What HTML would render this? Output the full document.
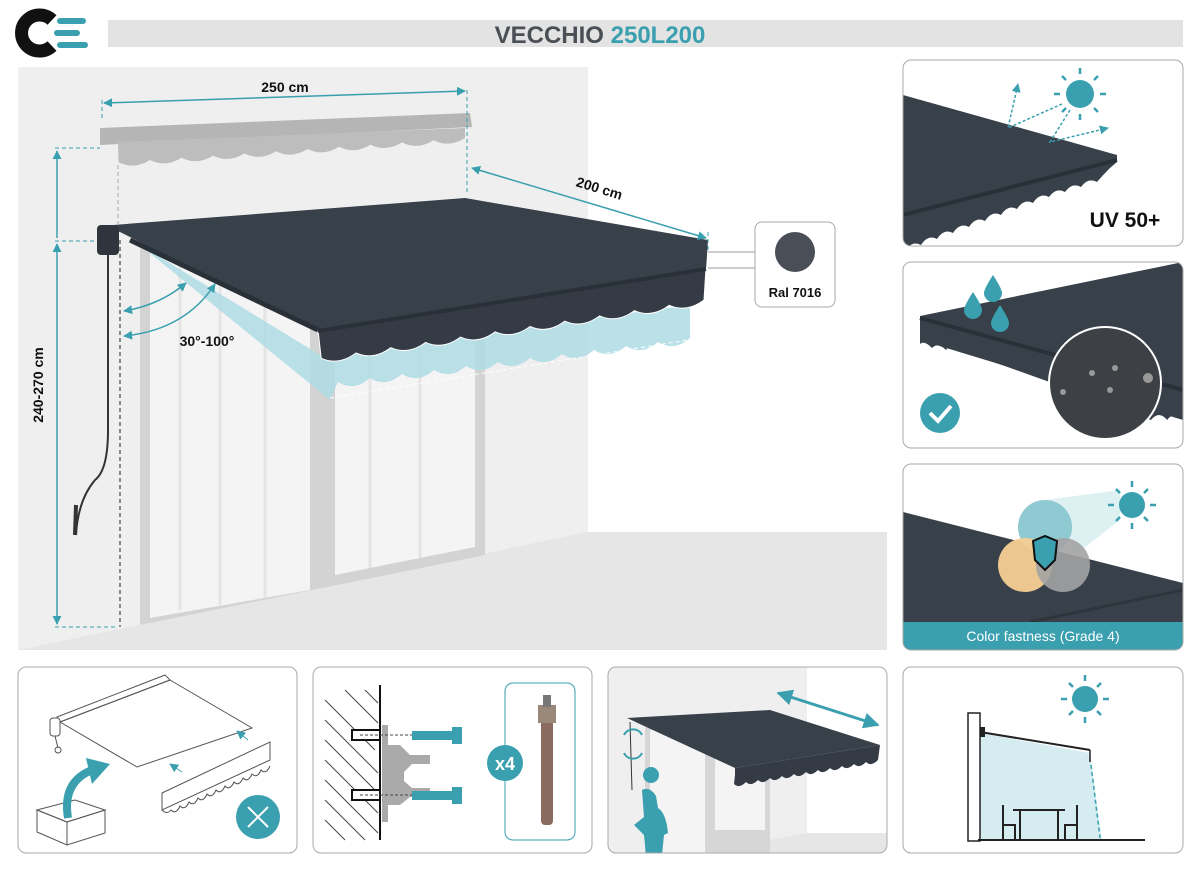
<!DOCTYPE html>
<html><head><meta charset="utf-8"><style>
html,body{margin:0;padding:0;background:#fff;width:1200px;height:870px;overflow:hidden}
svg{display:block}
text{font-family:"Liberation Sans",sans-serif}
</style></head><body>
<svg width="1200" height="870" viewBox="0 0 1200 870" xmlns="http://www.w3.org/2000/svg">
<defs>
<marker id="ar" viewBox="0 0 10 10" refX="9" refY="5" markerWidth="9" markerHeight="9" markerUnits="userSpaceOnUse" orient="auto-start-reverse"><path d="M0,0L10,5L0,10z" fill="#3a9fae"/></marker>
<marker id="arb" viewBox="0 0 10 10" refX="9" refY="5" markerWidth="16" markerHeight="16" markerUnits="userSpaceOnUse" orient="auto-start-reverse"><path d="M0,0L10,5L0,10z" fill="#3a9fae"/></marker>
</defs>
<!-- logo -->
<path d="M52,20 A18,18 0 1 0 52,46" fill="none" stroke="#111" stroke-width="13"/>
<g stroke="#3a9fae" stroke-width="6" stroke-linecap="round"><line x1="60" y1="21" x2="83" y2="21"/><line x1="57" y1="33" x2="77" y2="33"/><line x1="60" y1="45" x2="85" y2="45"/></g>
<!-- title -->
<rect x="108" y="20" width="1075" height="27" fill="#e3e3e3"/>
<text x="600" y="43" text-anchor="middle" font-size="24" font-weight="bold" fill="#4a4f55">VECCHIO <tspan fill="#3a9fae">250L200</tspan></text>

<!-- main scene -->
<rect x="18" y="67" width="869" height="583" fill="#fff"/>
<rect x="18" y="67" width="570" height="583" fill="#efefef"/>
<polygon points="588,532 887,532 887,650 18,650" fill="#e6e6e6"/>
<!-- window -->
<polygon points="140,240 485,240 485,555 140,625" fill="#d3d3d3"/>
<polygon points="150,250 310,250 310,590 150,618" fill="#f4f4f4"/>
<polygon points="335,250 475,250 475,547 335,575" fill="#f4f4f4"/>
<g stroke="#e4e4e4" stroke-width="3"><line x1="180" y1="255" x2="180" y2="610"/><line x1="220" y1="255" x2="220" y2="605"/><line x1="265" y1="255" x2="265" y2="598"/><line x1="370" y1="255" x2="370" y2="568"/><line x1="420" y1="255" x2="420" y2="558"/></g>
<!-- ghost gray awning -->
<polygon points="100,128 470,113 472,127 100,145" fill="#b5b5b5"/>
<path d="M118,142 L465,128 L465,138 q-15.8,10 -31.5,2.2 q-15.8,10 -31.5,2.2 q-15.8,10 -31.5,2.2 q-15.8,10 -31.5,2.2 q-15.8,10 -31.5,2.2 q-15.8,10 -31.5,2.2 q-15.8,10 -31.5,2.2 q-15.8,10 -31.5,2.2 q-15.8,10 -31.5,2.2 q-15.8,10 -31.5,2.2 q-15.8,10 -31.5,2.2 Z" fill="#bdbdbd"/>
<!-- light blue ghost -->
<path d="M140,245 L320,355 L690,305 L690,338 q-16,14 -32,4 q-16,14 -32,4 q-16,14 -32,4 q-16,14 -32,4 q-16,14 -32,4 q-16,14 -32,4 q-16,14 -32,4 q-16,14 -32,4 q-16,14 -32,4 q-16,14 -32,4 q-16,14 -32,4 L330,400 Z" fill="#aedce4" opacity="0.85"/>
<line x1="330" y1="398" x2="688" y2="340" stroke="#fff" stroke-dasharray="4,3"/>
<!-- dark awning -->
<polygon points="100,226 465,198 708,240 706,270 318,332 120,232" fill="#38404a"/>
<path d="M318,330 L706,268 L704,300 q-17.4,13 -34.8,5.3 q-17.4,13 -34.8,5.3 q-17.4,13 -34.8,5.3 q-17.4,13 -34.8,5.3 q-17.4,13 -34.8,5.3 q-17.4,13 -34.8,5.3 q-17.4,13 -34.8,5.3 q-17.4,13 -34.8,5.3 q-17.4,13 -34.8,5.3 q-17.4,13 -34.8,5.3 q-17.4,13 -34.8,5.3 Z" fill="#343b45" stroke="#fff" stroke-width="1"/>
<line x1="318" y1="331" x2="706" y2="269" stroke="#2a3038" stroke-width="4"/>
<line x1="130" y1="240" x2="318" y2="330" stroke="#2a3038" stroke-width="5"/>
<rect x="97" y="225" width="22" height="30" rx="4" fill="#2f353d"/>
<!-- crank -->
<path d="M108,255 L108,430 Q108,470 95,480 Q78,500 76,535" fill="none" stroke="#333" stroke-width="2"/>
<line x1="76" y1="505" x2="75" y2="535" stroke="#333" stroke-width="4"/>
<!-- dashed verticals -->
<line x1="120" y1="240" x2="120" y2="627" stroke="#222" stroke-dasharray="4,3"/>
<line x1="118" y1="165" x2="118" y2="225" stroke="#aaa" stroke-dasharray="4,3"/>
<line x1="467" y1="90" x2="467" y2="195" stroke="#3a9fae" stroke-dasharray="4,3"/>
<line x1="102" y1="100" x2="102" y2="120" stroke="#3a9fae" stroke-dasharray="4,3"/>
<line x1="708" y1="232" x2="708" y2="250" stroke="#3a9fae" stroke-dasharray="4,3"/>
<!-- dims -->
<line x1="104" y1="103" x2="465" y2="91" stroke="#3a9fae" stroke-width="1.5" marker-start="url(#ar)" marker-end="url(#ar)"/>
<text x="285" y="92" text-anchor="middle" font-size="14" font-weight="bold" fill="#111">250 cm</text>
<line x1="472" y1="168" x2="706" y2="238" stroke="#3a9fae" stroke-width="1.5" marker-start="url(#ar)" marker-end="url(#ar)"/>
<text x="598" y="193" text-anchor="middle" font-size="14" font-weight="bold" fill="#111" transform="rotate(17 598 193)">200 cm</text>
<g stroke="#3a9fae" stroke-dasharray="4,3"><line x1="55" y1="148" x2="100" y2="148"/><line x1="55" y1="241" x2="97" y2="241"/><line x1="55" y1="627" x2="115" y2="627"/></g>
<line x1="57" y1="238" x2="57" y2="151" stroke="#3a9fae" stroke-width="1.5" marker-end="url(#ar)"/>
<line x1="57" y1="244" x2="57" y2="624" stroke="#3a9fae" stroke-width="1.5" marker-start="url(#ar)" marker-end="url(#ar)"/>
<text x="43" y="385" text-anchor="middle" font-size="14" font-weight="bold" fill="#111" transform="rotate(-90 43 385)">240-270 cm</text>
<path d="M124,311 Q160,305 186,283" fill="none" stroke="#3a9fae" stroke-width="1.5" marker-start="url(#ar)" marker-end="url(#ar)"/>
<path d="M124,336 Q185,330 215,284" fill="none" stroke="#3a9fae" stroke-width="1.5" marker-start="url(#ar)" marker-end="url(#ar)"/>
<text x="207" y="346" text-anchor="middle" font-size="14" font-weight="bold" fill="#111">30°-100°</text>
<!-- ral -->
<line x1="708" y1="252" x2="755" y2="252" stroke="#999"/><line x1="708" y1="268" x2="755" y2="268" stroke="#999"/>
<rect x="755" y="222" width="80" height="85" rx="7" fill="#fff" stroke="#aaa"/>
<circle cx="795" cy="252" r="20" fill="#4a4f57"/>
<text x="795" y="297" text-anchor="middle" font-size="13" font-weight="bold" fill="#111">Ral 7016</text>

<!-- right panel 1 -->
<g>
<clipPath id="c1"><rect x="903" y="60" width="280" height="186" rx="8"/></clipPath>
<g clip-path="url(#c1)">
<path d="M903,95 L1117,155 L1117,162 L1110,168 q-8,8 -13,14 q-9,-5 -16,5 q-9,-5 -16,5 q-9,-5 -16,5 q-9,-5 -16,6 q-9,-5 -16,6 q-9,-5 -16,6 q-9,-5 -16,6 q-9,-5 -16,6 q-9,-5 -16,6 q-9,-5 -16,6 q-9,-5 -16,6 q-9,-5 -16,6 q-9,-5 -16,6 L903,246 Z" fill="#38404a"/>
<line x1="903" y1="215" x2="1117" y2="160" stroke="#2a3038" stroke-width="4"/>
</g>
<rect x="903" y="60" width="280" height="186" rx="8" fill="none" stroke="#aaa"/>
<circle cx="1080" cy="94" r="14" fill="#3a9fae"/>
<g stroke="#3a9fae" stroke-width="2.5"><line x1="1080" y1="68" x2="1080" y2="74"/><line x1="1080" y1="114" x2="1080" y2="120"/><line x1="1054" y1="94" x2="1060" y2="94"/><line x1="1100" y1="94" x2="1106" y2="94"/><line x1="1062" y1="76" x2="1066" y2="80"/><line x1="1094" y1="108" x2="1098" y2="112"/><line x1="1098" y1="76" x2="1094" y2="80"/><line x1="1066" y1="108" x2="1062" y2="112"/></g>
<g stroke="#3a9fae" stroke-width="1.5" stroke-dasharray="3,2" fill="none"><path d="M1062,104 L1008,128 L1018,84" marker-end="url(#ar)"/><path d="M1070,110 L1050,142 L1108,128" marker-end="url(#ar)"/></g>
<text x="1125" y="227" text-anchor="middle" font-size="21" font-weight="bold" fill="#111">UV 50+</text>
</g>

<!-- right panel 2 -->
<clipPath id="c2"><rect x="903" y="262" width="280" height="186" rx="8"/></clipPath>
<g clip-path="url(#c2)">
<path d="M920,316 L1183,262 L1183,420 L920,340 Z" fill="#38404a"/>
<path d="M920,318 L1183,390 L1183,420 q-8,-10 -16,0 q-8,-10 -16,0 L1100,400 L960,350 q-8,-8 -14,0 q-8,-8 -14,-2 q-8,-8 -12,-4 Z" fill="#38404a"/>
<line x1="920" y1="318" x2="1183" y2="390" stroke="#2a3038" stroke-width="4"/>
</g>
<rect x="903" y="262" width="280" height="186" rx="8" fill="none" stroke="#aaa"/>
<circle cx="1105" cy="383" r="56" fill="#3d4044" stroke="#fff" stroke-width="2"/>
<g fill="#999"><circle cx="1092" cy="373" r="3"/><circle cx="1115" cy="368" r="3"/><circle cx="1110" cy="390" r="3"/><circle cx="1148" cy="378" r="5"/><circle cx="1063" cy="392" r="3"/></g>
<g fill="#3a9fae"><path d="M993,275 q-9,14 -9,18 a9,9 0 0 0 18,0 q0,-4 -9,-18z"/><path d="M973,292 q-9,14 -9,18 a9,9 0 0 0 18,0 q0,-4 -9,-18z"/><path d="M1000,305 q-9,14 -9,18 a9,9 0 0 0 18,0 q0,-4 -9,-18z"/></g>
<circle cx="940" cy="413" r="20" fill="#3a9fae"/>
<path d="M930,413 L938,421 L951,406" fill="none" stroke="#fff" stroke-width="4"/>

<!-- right panel 3 -->
<clipPath id="c3"><rect x="903" y="464" width="280" height="186" rx="8"/></clipPath>
<g clip-path="url(#c3)">
<polygon points="903,512 1183,583 1183,650 903,650" fill="#38404a"/>
<line x1="1030" y1="622" x2="1183" y2="590" stroke="#2f353d" stroke-width="3"/>
<polygon points="1045,500 1120,490 1120,520 1075,555" fill="#d4ecef" opacity="0.8"/>
<rect x="903" y="622" width="280" height="28" fill="#3a9fae"/>
</g>
<rect x="903" y="464" width="280" height="186" rx="8" fill="none" stroke="#aaa"/>
<circle cx="1045" cy="527" r="27" fill="#8fc9d1"/>
<circle cx="1025" cy="565" r="27" fill="#f5cf94" opacity="0.95"/>
<circle cx="1063" cy="565" r="27" fill="#a3a3a3" opacity="0.9"/>
<path d="M1033,541 L1045,536 L1057,541 L1055,560 L1045,570 L1035,560 Z" fill="#3a9fae" stroke="#111" stroke-width="2"/>
<circle cx="1132" cy="505" r="13" fill="#3a9fae"/>
<g stroke="#3a9fae" stroke-width="2.5"><line x1="1132" y1="481" x2="1132" y2="487"/><line x1="1132" y1="523" x2="1132" y2="529"/><line x1="1108" y1="505" x2="1114" y2="505"/><line x1="1150" y1="505" x2="1156" y2="505"/><line x1="1116" y1="489" x2="1120" y2="493"/><line x1="1144" y1="517" x2="1148" y2="521"/><line x1="1148" y1="489" x2="1144" y2="493"/><line x1="1120" y1="517" x2="1116" y2="521"/></g>
<text x="1043" y="641" text-anchor="middle" font-size="14" fill="#fff">Color fastness (Grade 4)</text>

<!-- bottom boxes -->
<g fill="none" stroke="#aaa"><rect x="18" y="667" width="279" height="186" rx="8"/><rect x="313" y="667" width="279" height="186" rx="8"/><rect x="903" y="667" width="280" height="186" rx="8"/></g>
<!-- box1 -->
<g fill="none" stroke="#555" stroke-width="1">
<polygon points="57,717 165,675 170,680 60,722"/>
<polygon points="60,722 170,680 252,728 137,767"/>
<polygon points="162,793 270,742 270,760 162,810"/>
<path d="M162,810 q5,5 9,0 q5,5 9,-4 q5,5 9,-4 q5,5 9,-4 q5,5 9,-4 q5,5 9,-4 q5,5 9,-4 q5,5 9,-4 q5,5 9,-4 q5,5 9,-4 q5,5 9,-4 q5,5 9,-4"/>
<polygon points="37,810 75,800 105,810 67,822"/>
<polygon points="37,810 67,822 67,845 37,832"/>
<polygon points="67,822 105,810 105,833 67,845"/>
</g>
<rect x="50" y="718" width="10" height="18" rx="3" fill="#fff" stroke="#555"/>
<line x1="55" y1="736" x2="58" y2="748" stroke="#555"/><circle cx="58" cy="750" r="3" fill="none" stroke="#555"/>
<path d="M68,818 Q62,782 92,770" fill="none" stroke="#3a9fae" stroke-width="8"/>
<polygon points="86,758 110,764 92,784" fill="#3a9fae"/>
<line x1="182" y1="772" x2="170" y2="764" stroke="#3a9fae" marker-end="url(#ar)"/>
<line x1="248" y1="740" x2="237" y2="731" stroke="#3a9fae" marker-end="url(#ar)"/>
<circle cx="258" cy="817" r="22" fill="#3a9fae"/>
<g stroke="#fff" stroke-width="2"><line x1="248" y1="807" x2="268" y2="827"/><line x1="268" y1="807" x2="248" y2="827"/></g>
<!-- box2 -->
<g stroke="#444" stroke-width="1">
<line x1="325" y1="700" x2="375" y2="750"/><line x1="325" y1="720" x2="378" y2="773"/><line x1="325" y1="740" x2="378" y2="793"/><line x1="325" y1="760" x2="378" y2="813"/><line x1="325" y1="780" x2="378" y2="833"/><line x1="325" y1="800" x2="365" y2="840"/><line x1="325" y1="820" x2="345" y2="840"/><line x1="345" y1="690" x2="378" y2="723"/><line x1="365" y1="690" x2="378" y2="703"/>
</g>
<line x1="380" y1="685" x2="380" y2="840" stroke="#111" stroke-width="2"/>
<rect x="352" y="730" width="28" height="10" fill="#fff" stroke="#111" stroke-width="2"/>
<rect x="352" y="790" width="28" height="10" fill="#fff" stroke="#111" stroke-width="2"/>
<path d="M382,725 L388,725 L388,745 L400,745 L410,755 L430,755 L430,764 L412,764 L404,772 L404,781 L412,788 L430,788 L430,797 L410,797 L400,805 L388,805 L388,822 L382,822 Z" fill="#aaa"/>
<g stroke="#444" stroke-dasharray="3,2"><line x1="360" y1="735" x2="412" y2="735"/><line x1="360" y1="795" x2="412" y2="795"/></g>
<g fill="#3a9fae"><rect x="412" y="731" width="40" height="9"/><rect x="452" y="727" width="10" height="17"/><rect x="412" y="791" width="40" height="9"/><rect x="452" y="787" width="10" height="17"/></g>
<rect x="505" y="683" width="70" height="157" rx="8" fill="none" stroke="#3a9fae"/>
<circle cx="505" cy="763" r="18" fill="#3a9fae"/>
<text x="505" y="770" text-anchor="middle" font-size="18" font-weight="bold" fill="#fff">x4</text>
<rect x="541" y="720" width="12" height="105" rx="4" fill="#8b6b60"/>
<rect x="538" y="705" width="18" height="18" fill="#9a8878"/>
<rect x="543" y="695" width="8" height="12" fill="#777"/>
<!-- box3 -->
<clipPath id="c4"><rect x="608" y="667" width="279" height="186" rx="8"/></clipPath>
<g clip-path="url(#c4)">
<rect x="608" y="667" width="279" height="186" fill="#fff"/>
<rect x="608" y="667" width="199" height="186" fill="#efefef"/>
<polygon points="807,833 887,833 887,853 700,853" fill="#e6e6e6"/>
<rect x="645" y="727" width="125" height="126" fill="#d6d6d6"/>
<rect x="650" y="730" width="55" height="123" fill="#f4f4f4"/><rect x="715" y="730" width="50" height="100" fill="#f4f4f4"/>
<polygon points="627,718 770,710 880,745 735,768" fill="#38404a"/>
<path d="M735,768 L880,745 L878,760 q-7,7 -12,2 q-7,7 -12,2 q-7,7 -12,2 q-7,7 -12,2 q-7,7 -12,2 q-7,7 -12,2 q-7,7 -12,2 q-7,7 -12,2 q-7,7 -12,2 q-7,7 -12,2 q-7,7 -12,2 q-7,7 -12,2 L735,775 Z" fill="#343b45"/>
<path d="M642,790 q8,-4 14,6 l2,12 q8,5 10,25 l-4,2 l-2,20 l-16,0 l-2,-20 l-10,-10 l10,-8 z" fill="#3a9fae"/>
<circle cx="651" cy="775" r="8" fill="#3a9fae"/>
<line x1="630" y1="722" x2="632" y2="790" stroke="#333"/>
<path d="M624,735 a10,10 0 0 1 18,0 M642,753 a10,10 0 0 1 -18,0" fill="none" stroke="#3a9fae" stroke-width="2"/>
<line x1="778" y1="693" x2="878" y2="725" stroke="#3a9fae" stroke-width="3" marker-start="url(#arb)" marker-end="url(#arb)"/>
</g>
<rect x="608" y="667" width="279" height="186" rx="8" fill="none" stroke="#aaa"/>
<!-- box4 -->
<polygon points="980,733 1090,753 1102,840 980,840" fill="#d5ecf1"/>
<rect x="968" y="713" width="12" height="128" fill="#fff" stroke="#222" stroke-width="1.5"/>
<line x1="978" y1="840" x2="1145" y2="840" stroke="#222" stroke-width="2"/>
<line x1="980" y1="732" x2="1090" y2="750" stroke="#222" stroke-width="2"/>
<rect x="980" y="727" width="5" height="10" fill="#222"/>
<line x1="1090" y1="750" x2="1090" y2="762" stroke="#222" stroke-width="1.5"/>
<line x1="1091" y1="765" x2="1100" y2="838" stroke="#3a9fae" stroke-width="1.5" stroke-dasharray="4,3"/>
<g stroke="#222" stroke-width="2" fill="none"><line x1="1013" y1="810" x2="1065" y2="810"/><line x1="1020" y1="810" x2="1020" y2="840"/><line x1="1058" y1="810" x2="1058" y2="840"/><path d="M1003,805 L1003,840 M1003,825 L1015,825 L1015,840"/><path d="M1077,805 L1077,840 M1077,825 L1065,825 L1065,840"/></g>
<circle cx="1085" cy="699" r="13" fill="#3a9fae"/>
<g stroke="#3a9fae" stroke-width="2.5"><line x1="1085" y1="675" x2="1085" y2="681"/><line x1="1085" y1="717" x2="1085" y2="723"/><line x1="1061" y1="699" x2="1067" y2="699"/><line x1="1103" y1="699" x2="1109" y2="699"/><line x1="1069" y1="683" x2="1073" y2="687"/><line x1="1097" y1="711" x2="1101" y2="715"/><line x1="1101" y1="683" x2="1097" y2="687"/><line x1="1073" y1="711" x2="1069" y2="715"/></g>
</svg>
</body></html>
